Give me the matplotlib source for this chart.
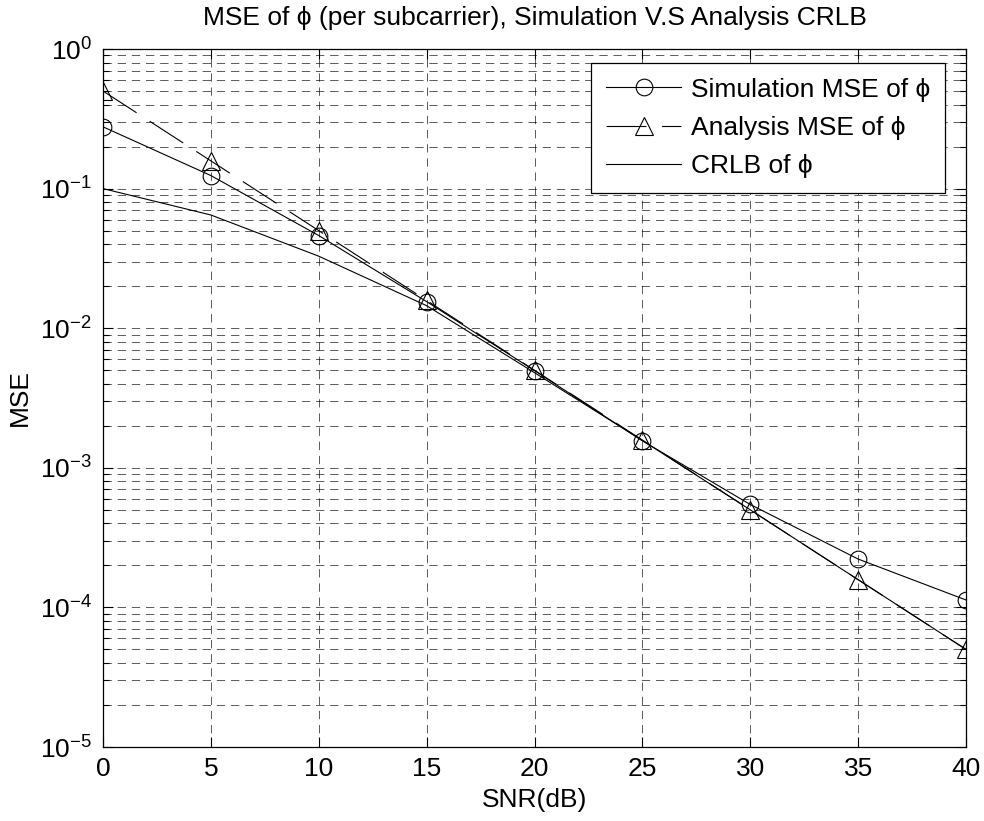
import matplotlib
matplotlib.use("Agg")
import matplotlib.pyplot as plt
from matplotlib.ticker import LogLocator, NullFormatter

plt.rcParams['font.family'] = ['Liberation Sans', 'DejaVu Sans']
plt.rcParams['mathtext.default'] = 'regular'

# SNR points (dB) and MSE curves
snr_db = [0, 5, 10, 15, 20, 25, 30, 35, 40]
sim_mse = [0.277, 0.124, 0.0461, 0.0155, 0.00497, 0.00156, 0.000546, 0.000222, 0.000113]
ana_mse = [0.5, 0.158, 0.05, 0.0158, 0.005, 0.00158, 0.0005, 0.000158, 0.00005]
crlb = [0.1, 0.0647, 0.0328, 0.0145, 0.0048, 0.00157, 0.0005, 0.000158, 0.00005]

labels = ["Simulation MSE of ϕ", "Analysis MSE of ϕ", "CRLB of ϕ"]
x_ticks = [0, 5, 10, 15, 20, 25, 30, 35, 40]

FS = 19

fig = plt.figure(figsize=(9.84, 8.21), dpi=100)
ax = fig.add_axes([103/984, 1 - 747/821, (966 - 103)/984, (747 - 49)/821])

lw = 0.8
ax.plot(snr_db, sim_mse, color='black', lw=lw, marker='o', ms=12,
        mfc='none', mec='black', mew=0.8, label=labels[0])
ax.plot(snr_db, ana_mse, color='black', lw=lw, marker='^', ms=13,
        mfc='none', mec='black', mew=0.8, linestyle=(0, (36, 14)),
        label=labels[1])
ax.plot(snr_db, crlb, color='black', lw=lw, label=labels[2])

ax.set_yscale('log')
ax.set_xlim(0, 40)
ax.set_ylim(1e-5, 1e0)
ax.set_xticks(x_ticks)
ax.yaxis.set_major_locator(LogLocator(base=10, numticks=10))
ax.yaxis.set_minor_locator(LogLocator(base=10, subs=range(2, 10), numticks=100))
ax.yaxis.set_minor_formatter(NullFormatter())

grid_style = dict(color='black', lw=0.6, linestyle=(0, (10, 7)), alpha=0.75)
ax.grid(True, which='major', axis='both', **grid_style)
ax.grid(True, which='minor', axis='y', **grid_style)
ax.set_axisbelow(True)

ax.tick_params(which='both', direction='in', top=True, right=True,
               labelsize=FS, width=0.8)
ax.tick_params(which='major', length=7)
ax.tick_params(axis='x', which='major', pad=7)
ax.tick_params(axis='y', which='major', pad=8)
ax.tick_params(which='minor', length=4)
for s in ax.spines.values():
    s.set_linewidth(0.9)

ax.set_title("MSE of ϕ (per subcarrier), Simulation V.S Analysis CRLB",
             fontsize=FS, pad=17)
ax.set_xlabel("SNR(dB)", fontsize=FS, labelpad=5)
ax.set_ylabel("MSE", fontsize=FS, labelpad=6)

leg = ax.legend(loc='upper right', bbox_to_anchor=(945/984, 1 - 63/821),
                bbox_transform=fig.transFigure, borderaxespad=0,
                fontsize=FS, handlelength=2.85, handletextpad=0.38,
                labelspacing=0.54, borderpad=0.55, fancybox=False,
                framealpha=1, edgecolor='black')
leg.get_frame().set_linewidth(0.9)

fig.savefig("out.png", dpi=100)
